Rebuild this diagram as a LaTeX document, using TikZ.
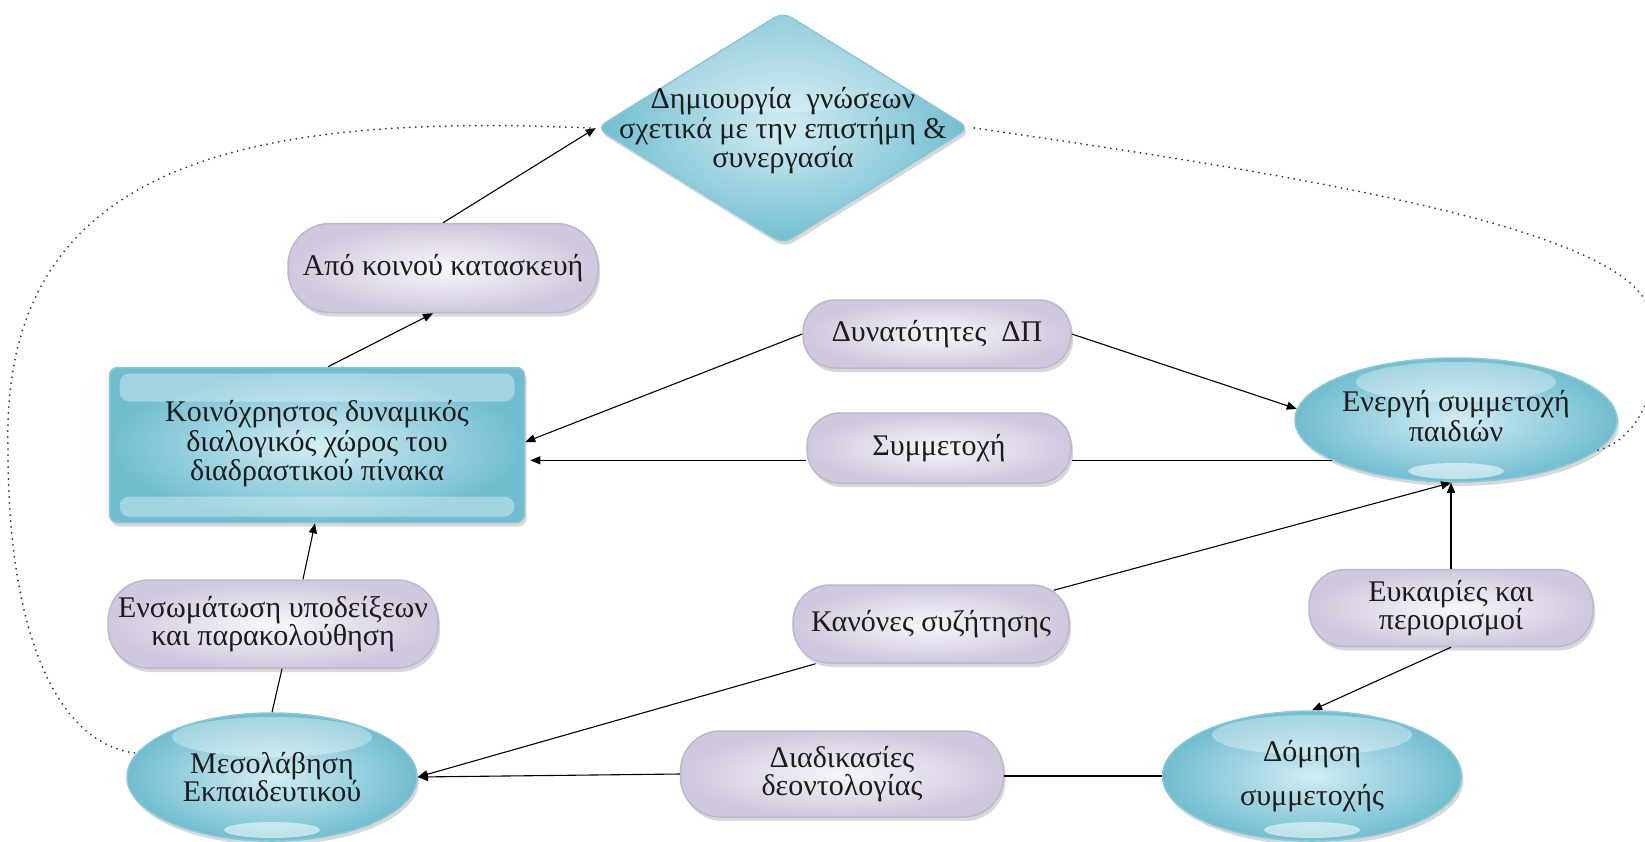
\documentclass[tikz,border=0pt]{standalone}
\usepackage{fontspec}
\setmainfont{Liberation Serif}
\usetikzlibrary{shapes.geometric,shadows,arrows.meta}

\definecolor{cyDark}{RGB}{112,189,208}
\definecolor{cyLight}{RGB}{210,237,244}
\definecolor{cyBorder}{RGB}{138,200,216}
\definecolor{lvDark}{RGB}{208,200,222}
\definecolor{lvLight}{RGB}{248,246,251}
\definecolor{lvBorder}{RGB}{190,182,205}
\definecolor{txt}{RGB}{28,28,28}
\definecolor{dotc}{RGB}{55,55,55}

\begin{document}
\begin{tikzpicture}[x=1pt,y=-1pt,
  every node/.style={font=\fontsize{30}{28}\selectfont, text=txt, align=center, inner sep=0pt},
  shadowed/.style={drop shadow={opacity=0.3,shadow xshift=2pt,shadow yshift=-4pt}},
  bluebase/.style={shadowed, draw=cyBorder, line width=1.5pt, inner color=cyLight, outer color=cyDark},
  glossell/.style={path picture={
      \fill[white,opacity=0.35] ([yshift=-24pt]path picture bounding box.north) ellipse [x radius=100pt, y radius=20pt];
      \fill[white,opacity=0.55] ([yshift=11pt]path picture bounding box.south) ellipse [x radius=48pt, y radius=8pt];}},
  glossrect/.style={path picture={
      \fill[white,opacity=0.35,rounded corners=10pt] ([xshift=10pt,yshift=-6pt]path picture bounding box.north west) rectangle ([xshift=-10pt,yshift=-34pt]path picture bounding box.north east);
      \fill[white,opacity=0.35,rounded corners=10pt] ([xshift=10pt,yshift=6pt]path picture bounding box.south west) rectangle ([xshift=-10pt,yshift=26pt]path picture bounding box.south east);}},
  glossdia/.style={path picture={
      \fill[white,opacity=0.25] ([yshift=-40pt]path picture bounding box.north) ellipse [x radius=170pt, y radius=60pt];}},
  blueell/.style={bluebase, glossell, ellipse},
  bluerect/.style={bluebase, glossrect, rectangle, rounded corners=8pt},
  bluedia/.style={bluebase, glossdia, diamond, rounded corners=10pt},
  pill/.style={shadowed, draw=lvBorder, line width=1.5pt, inner color=lvLight, outer color=lvDark, rectangle, rounded corners=#1},
  pill/.default=32pt,
  conn/.style={draw=black, line width=1.1pt},
  arr/.style={conn, -{Triangle[length=10pt,width=8pt]}},
  dots/.style={draw=dotc, line width=2pt, line cap=round, dash pattern=on 0pt off 6pt}
]
\useasboundingbox (0,0) rectangle (1645,841);
\fill[white] (0,0) rectangle (1645,841);

\coordinate (rtop) at (1645,300);
\coordinate (lmid) at (8,450);

% nodes
\node[bluedia, minimum width=373pt, minimum height=232pt] (dia) at (783,128)
  {\raisebox{-10pt}[0pt][0pt]{\makebox[0pt]{\begin{tabular}{@{}c@{}}Δημιουργία\ \ γνώσεων\\σχετικά με την επιστήμη \&\\συνεργασία\end{tabular}}}};
\node[pill=42pt, minimum width=310pt, minimum height=89pt] (apo) at (443,268) {Από κοινού κατασκευή};
\node[bluerect, minimum width=415pt, minimum height=155pt] (rect) at (317,445)
  {\raisebox{12pt}{\begin{tabular}{@{}c@{}}Κοινόχρηστος δυναμικός\\διαλογικός χώρος του\\διαδραστικού πίνακα\end{tabular}}};
\node[pill, minimum width=268pt, minimum height=68pt] (dyn) at (937,334) {Δυνατότητες\ \ ΔΠ};
\node[pill=33pt, minimum width=264pt, minimum height=70pt] (sym) at (939,448) {Συμμετοχή};
\node[blueell, minimum width=310pt, minimum height=124pt] (ener) at (1456,420) {\raisebox{4pt}{\begin{tabular}{@{}c@{}}Ενεργή συμμετοχή\\παιδιών\end{tabular}}};
\node[pill=41pt, minimum width=330pt, minimum height=88pt] (ens) at (273,624) {Ενσωμάτωση υποδείξεων\\και παρακολούθηση};
\node[pill=37pt, minimum width=276pt, minimum height=78pt] (kan) at (931,624) {Κανόνες συζήτησης};
\node[pill=36pt, minimum width=284pt, minimum height=77pt] (eyk) at (1451,608) {Ευκαιρίες και\\περιορισμοί};
\node[blueell, minimum width=290pt, minimum height=128pt] (mes) at (272,777) {Μεσολάβηση\\Εκπαιδευτικού};
\node[pill=40pt, minimum width=323pt, minimum height=86pt] (deo) at (842,774) {Διαδικασίες\\δεοντολογίας};
\node[blueell, minimum width=299pt, minimum height=130pt] (dom) at (1312,776) {Δόμηση\\[16pt]συμμετοχής};

% dotted curves
\draw[dots] ([xshift=-6pt]dia.west) .. controls (230,112) and (0,170) .. (lmid)
            .. controls (8,640) and (60,745) .. (mes.170);
\draw[dots] ([xshift=4pt]dia.east) .. controls (1300,175) and (1600,225) .. (rtop)
            .. controls (1672,375) and (1640,440) .. (ener.-12);

% connectors
\draw[arr] ([xshift=11pt]rect.north) -- ([xshift=-10pt]apo.south);
\draw[arr] (apo.north) -- (dia.west);
\draw[arr] (dyn.west) -- ([yshift=3pt]rect.east);
\draw[arr] (dyn.east) -- (ener.176);
\coordinate (symR) at (ener.198 -| sym.east);
\coordinate (symL) at (ener.198 -| sym.west);
\coordinate (rectR) at (ener.198 -| rect.east);
\coordinate (enerB) at (eyk.north |- ener.south);
\draw[conn] (ener.198) -- (symR);
\draw[arr] (symL) -- ([xshift=5pt]rectR);
\draw[arr] ([xshift=-16pt,yshift=-6pt]kan.north east) -- (enerB);
\draw[arr] (eyk.north) -- (enerB);
\draw[arr] (eyk.south) -- (dom.north);
\draw[conn] (dom.west) -- (dom.west -| deo.east);
\draw[arr] (deo.west) -- (mes.east);
\draw[arr] (kan.199) -- (mes.east);
\draw[conn] (mes.north) -- ([xshift=9pt]ens.south);
\draw[arr] ([xshift=30pt]ens.north) -- ([xshift=-2pt]rect.south);
\end{tikzpicture}
\end{document}
